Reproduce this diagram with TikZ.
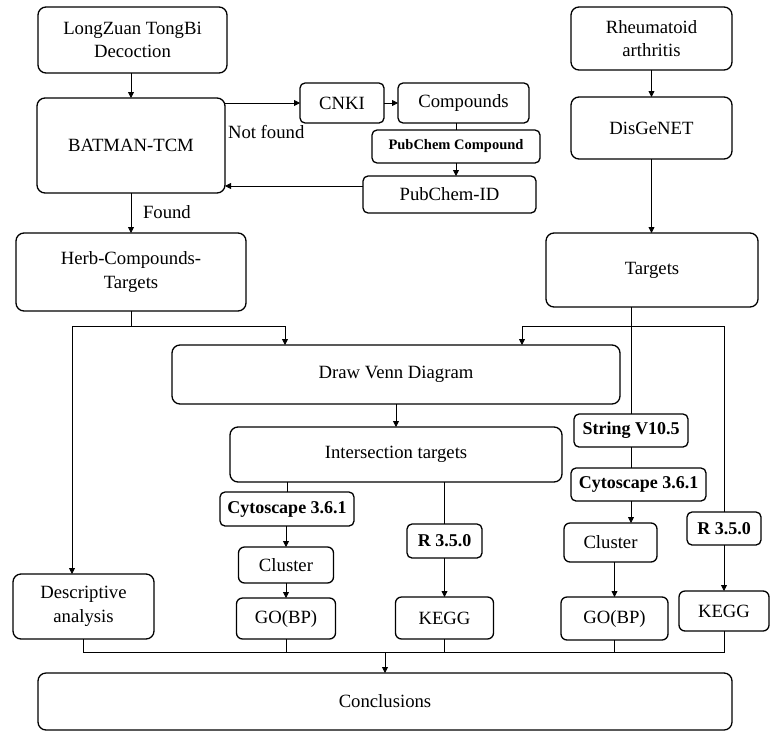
\documentclass[tikz,border=0pt]{standalone}
\usepackage{fontspec}
\setmainfont{Liberation Serif}
\usetikzlibrary{arrows.meta}
\begin{document}
\begin{tikzpicture}[x=1pt,y=-1pt,inner sep=0pt,outer sep=0pt,thick,>={Triangle[length=6pt,width=6pt]},
flowbox/.style={draw,rectangle,rounded corners=8pt,line width=1.3pt,align=center,font=\fontsize{18.7}{23.5}\selectfont},
toolbox/.style={flowbox,rounded corners=5pt,font=\bfseries\fontsize{18}{20}\selectfont},
plaintext/.style={font=\fontsize{18.7}{23.5}\selectfont}]
\useasboundingbox (0,0) rectangle (770,731);
\draw (132.5,40) node[flowbox,minimum width=189pt,minimum height=66pt] (lz) {LongZuan TongBi\\Decoction};
\draw (131,145.5) node[flowbox,minimum width=188pt,minimum height=95pt] (bat) {BATMAN-TCM};
\draw (342,103) node[flowbox,rounded corners=5pt,minimum width=84pt,minimum height=40pt] (cnki) {CNKI};
\draw (463.5,103) node[flowbox,rounded corners=5pt,minimum width=131pt,minimum height=40pt] (comp) {Compounds};
\draw (456,146.5) node[toolbox,font=\bfseries\fontsize{14.5}{18}\selectfont,minimum width=168pt,minimum height=33pt] (pcc) {PubChem Compound};
\draw (449.5,194.5) node[flowbox,rounded corners=5pt,minimum width=173pt,minimum height=37pt] (pcid) {PubChem-ID};
\draw (131,272) node[flowbox,minimum width=230pt,minimum height=78pt] (herb) {Herb-Compounds-\\Targets};
\draw (651.5,38.5) node[flowbox,minimum width=161pt,minimum height=63pt] (ra) {Rheumatoid\\arthritis};
\draw (651.5,128) node[flowbox,minimum width=161pt,minimum height=62pt] (dis) {DisGeNET};
\draw (652,270) node[flowbox,minimum width=212pt,minimum height=74pt] (tgt) {Targets};
\draw (396,374.5) node[flowbox,minimum width=448pt,minimum height=59pt] (venn) {Draw Venn Diagram};
\draw (396,454.5) node[flowbox,minimum width=332pt,minimum height=55pt] (inter) {Intersection targets};
\draw (287,509) node[toolbox,minimum width=134pt,minimum height=34pt] (cyto1) {Cytoscape 3.6.1};
\draw (286,565) node[flowbox,rounded corners=6pt,minimum width=95pt,minimum height=36pt] (clu1) {Cluster};
\draw (286,618.5) node[flowbox,rounded corners=6pt,minimum width=99pt,minimum height=41pt] (go1) {GO(BP)};
\draw (444.5,541) node[toolbox,minimum width=75pt,minimum height=34pt] (r1) {R 3.5.0};
\draw (444.5,618) node[flowbox,rounded corners=6pt,minimum width=98pt,minimum height=42pt] (kegg1) {KEGG};
\draw (631,430.5) node[toolbox,minimum width=114pt,minimum height=33pt] (str) {String V10.5};
\draw (638.5,484.5) node[toolbox,minimum width=135pt,minimum height=33pt] (cyto2) {Cytoscape 3.6.1};
\draw (610.5,542.5) node[flowbox,rounded corners=6pt,minimum width=93pt,minimum height=39pt] (clu2) {Cluster};
\draw (614.5,618.5) node[flowbox,rounded corners=6pt,minimum width=107pt,minimum height=43pt] (go2) {GO(BP)};
\draw (724,528.5) node[toolbox,minimum width=74pt,minimum height=33pt] (r2) {R 3.5.0};
\draw (724,611) node[flowbox,rounded corners=6pt,minimum width=90pt,minimum height=40pt] (kegg2) {KEGG};
\draw (83.5,606.5) node[flowbox,minimum width=141pt,minimum height=65pt] (desc) {Descriptive\\analysis};
\draw (385,701.5) node[flowbox,minimum width=694pt,minimum height=57pt] (conc) {Conclusions};
\draw (228,132) node[plaintext,anchor=west] (nf) {Not found};
\draw (143,212) node[plaintext,anchor=west] (fd) {Found};
\coordinate (upbus) at (0,326);
\coordinate (lowbus) at (385,652);
\coordinate (back) at ([yshift=8.5pt]pcid.west);
% herb side
\draw[->] (bat.north |- lz.south) -- (bat.north);
\draw[->] (bat.east |- cnki) -- (cnki);
\draw[->] (cnki) -- (comp);
\draw (pcc.north |- comp.south) -- (pcc.north);
\draw[->] (pcc) -- (pcc |- pcid.north);
\draw[->] (back) -- (bat.east |- back);
\draw[->] (bat) -- (herb);
\draw (herb) -- (herb |- upbus);
\draw[->] (herb |- upbus) -| ([xshift=-11.5pt]desc.north);
\draw[->] (herb |- upbus) -| ([xshift=-111pt]venn.north);
% disease side
\draw[->] (dis.north |- ra.south) -- (dis.north);
\draw[->] (dis) -- (dis |- tgt.north);
\draw (str.north |- tgt.south) -- (str.north);
\draw[->] (str |- upbus) -| ([xshift=126pt]venn.north);
\draw (str |- upbus) -| (r2.north);
% analysis
\draw[->] (venn) -- (inter);
\draw (cyto1.north |- inter.south) -- (cyto1.north);
\draw (r1.north |- inter.south) -- (r1.north);
\draw[->] (clu1 |- cyto1.south) -- (clu1);
\draw[->] (clu1) -- (go1);
\draw[->] (r1) -- (kegg1);
\draw (str) -- (str |- cyto2.north);
\draw[->] (str |- cyto2.south) -- (str |- clu2.north);
\draw[->] (go2 |- clu2.south) -- (go2);
\draw[->] (r2) -- (kegg2);
% conclusions
\draw (desc) -- (desc |- lowbus) -- (kegg2 |- lowbus) -- (kegg2);
\foreach \n in {go1,kegg1,go2} \draw (\n) -- (\n |- lowbus);
\draw[->] (lowbus) -- (conc);
\end{tikzpicture}
\end{document}
